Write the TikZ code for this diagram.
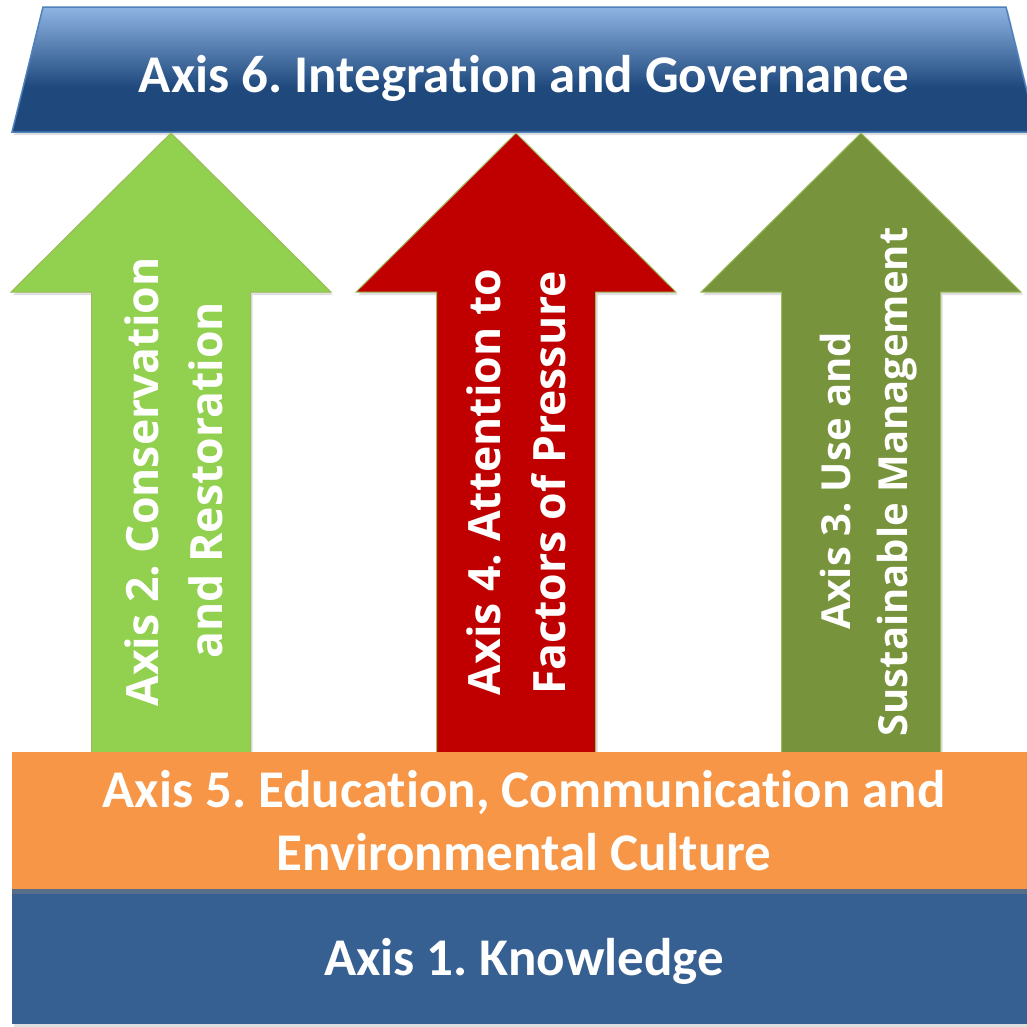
\documentclass[tikz,border=0pt]{standalone}
\usepackage{fontspec}
\setmainfont{Carlito}[Ligatures={NoCommon}]
\newfontfamily\arrowfont{Open Sans}[Ligatures={NoCommon}]
\usetikzlibrary{shadows}
\frenchspacing
\definecolor{bannerlight}{HTML}{8EB4E3}
\definecolor{bannerdark}{HTML}{1F497D}
\definecolor{bannerline}{HTML}{4F81BD}
\definecolor{axisgreen}{HTML}{92D050}
\definecolor{axisred}{HTML}{C00000}
\definecolor{axisolive}{HTML}{77933C}
\definecolor{arrowline}{HTML}{9BBB59}
\definecolor{axisorange}{HTML}{F79646}
\definecolor{axisblue}{HTML}{376092}
\pgfdeclareverticalshading{bannershade}{100bp}{color(0bp)=(bannerdark); color(43bp)=(bannerdark); color(75bp)=(bannerlight); color(100bp)=(bannerlight)}
\tikzset{
  softshadow/.style={drop shadow={opacity=0.25,shadow xshift=2pt,shadow yshift=-3pt}},
  bigtext/.style={text=white,font=\bfseries\fontsize{53}{63}\selectfont,anchor=base},
  arrowtext/.style={text=white,font=\arrowfont\bfseries\fontsize{44.5}{54}\selectfont,anchor=base,rotate=90}
}
% one up arrow: centre x, fill colour
\newcommand{\axisarrow}[2]{%
  \filldraw[fill=#2,draw=arrowline,line width=1pt,softshadow] (#1,133) -- (#1+160,292) -- (#1+79.5,292)
    -- (#1+79.5,770) -- (#1-79.5,770) -- (#1-79.5,292) -- (#1-160,292) -- cycle;}
\begin{document}
\begin{tikzpicture}[x=1pt,y=-1pt]
\clip(0,0) rectangle (1027,1026);
% axis 6, the roof
\shade[shading=bannershade,softshadow] (43,7) -- (1006,7) -- (1037,132) -- (12,132) -- cycle;
\draw[bannerline,line width=1.5pt] (43,7) -- (1006,7) -- (1037,132) -- (12,132) -- cycle;
% the three pillars
\axisarrow{171}{axisgreen}
\axisarrow{516}{axisred}
\axisarrow{861}{axisolive}
% axis 1 and axis 5
\fill[axisblue,softshadow] (12,889) rectangle (1040,1024);
\fill[axisorange,drop shadow={opacity=0.45,shadow xshift=0pt,shadow yshift=-5pt}] (12,752) rectangle (1040,889);
\node[bigtext] (a6) at (524,92) {Axis 6. Integration and Governance};
\node[bigtext] (a5) at (524,807) {Axis 5. Education, Communication and};
\node[bigtext] (a5b) at (524,870) {Environmental Culture};
\node[bigtext] (a1) at (524,975) {Axis 1. Knowledge};
\node[arrowtext] (a2) at (158,482) {Axis 2. Conservation};
\node[arrowtext] (a2b) at (222,480) {and Restoration};
\node[arrowtext] (a4) at (500,482) {Axis 4. Attention to};
\node[arrowtext] (a4b) at (565,483) {Factors of Pressure};
\node[arrowtext,font=\arrowfont\bfseries\fontsize{40}{48}\selectfont] (a3) at (850,481) {Axis 3. Use and};
\node[arrowtext,font=\arrowfont\bfseries\fontsize{40}{48}\selectfont] (a3b) at (907,482) {Sustainable Management};
\end{tikzpicture}
\end{document}
